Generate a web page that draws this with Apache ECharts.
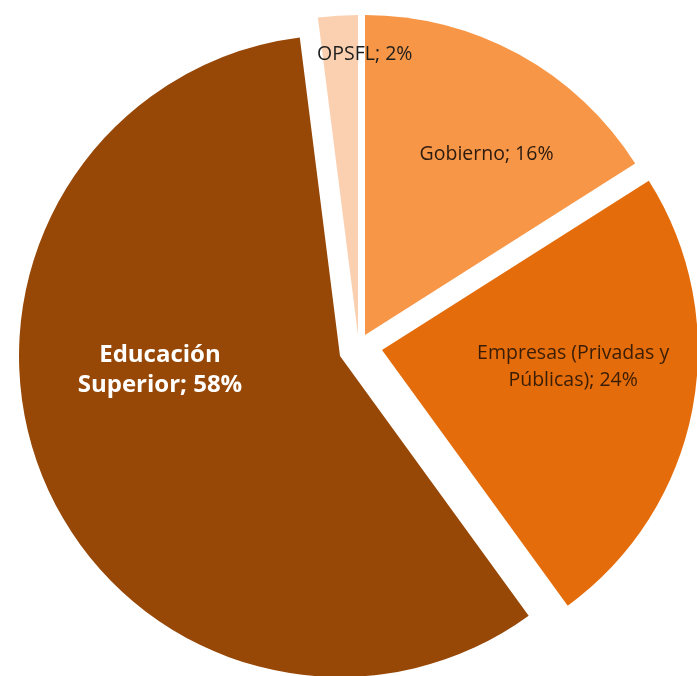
<!DOCTYPE html>
<html>
<head>
<meta charset="utf-8">
<script src="https://cdn.jsdelivr.net/npm/echarts@6/dist/echarts.min.js"></script>
<style>
  html, body { margin: 0; padding: 0; background: #ffffff; }
  #chart { width: 697px; height: 676px; }
</style>
</head>
<body>
<div id="chart"></div>
<script>
// Sectors and their shares (%)
const sectors = ['Gobierno', 'Empresas (Privadas y\nPúblicas)', 'Educación\nSuperior', 'OPSFL'];
const shares = [16, 24, 58, 2];

// Look of each slice
const colors = ['#F79646', '#E46C0A', '#974706', '#FBD0B0'];
const apex = [[365, 335], [382, 350], [340, 356], [358, 335]];
const radii = [320, 316, 321, 320];
const labelOffsets = [[43, -38], [33, -13], [-28, -46], [17, -118]];
const labelStyles = [
  { color: '#2a1a10', fontSize: 19.5, fontWeight: 'normal', lineHeight: 27 },
  { color: '#3a1d06', fontSize: 19.5, fontWeight: 'normal', lineHeight: 27 },
  { color: '#ffffff', fontSize: 24, fontWeight: 'bold', lineHeight: 30 },
  { color: '#1e1e1e', fontSize: 19.5, fontWeight: 'normal', lineHeight: 26 }
];

// One pie per exploded slice: same data, only the own slice is painted
const series = sectors.map((_, k) => ({
  type: 'pie',
  center: apex[k],
  radius: [0, radii[k]],
  startAngle: 90,
  clockwise: true,
  silent: true,
  animation: false,
  labelLine: { show: false },
  data: sectors.map((name, i) => ({
    name: name,
    value: shares[i],
    itemStyle: { color: i === k ? colors[i] : 'rgba(0,0,0,0)' },
    label: i === k ? Object.assign({
      show: true,
      position: 'inside',
      offset: labelOffsets[i],
      fontFamily: 'Open Sans',
      align: 'center',
      formatter: p => p.name + '; ' + p.value + '%'
    }, labelStyles[i]) : { show: false }
  }))
}));

const chart = echarts.init(document.getElementById('chart'), null, { renderer: 'canvas' });
chart.setOption({
  backgroundColor: '#ffffff',
  series: series
});
</script>
</body>
</html>
